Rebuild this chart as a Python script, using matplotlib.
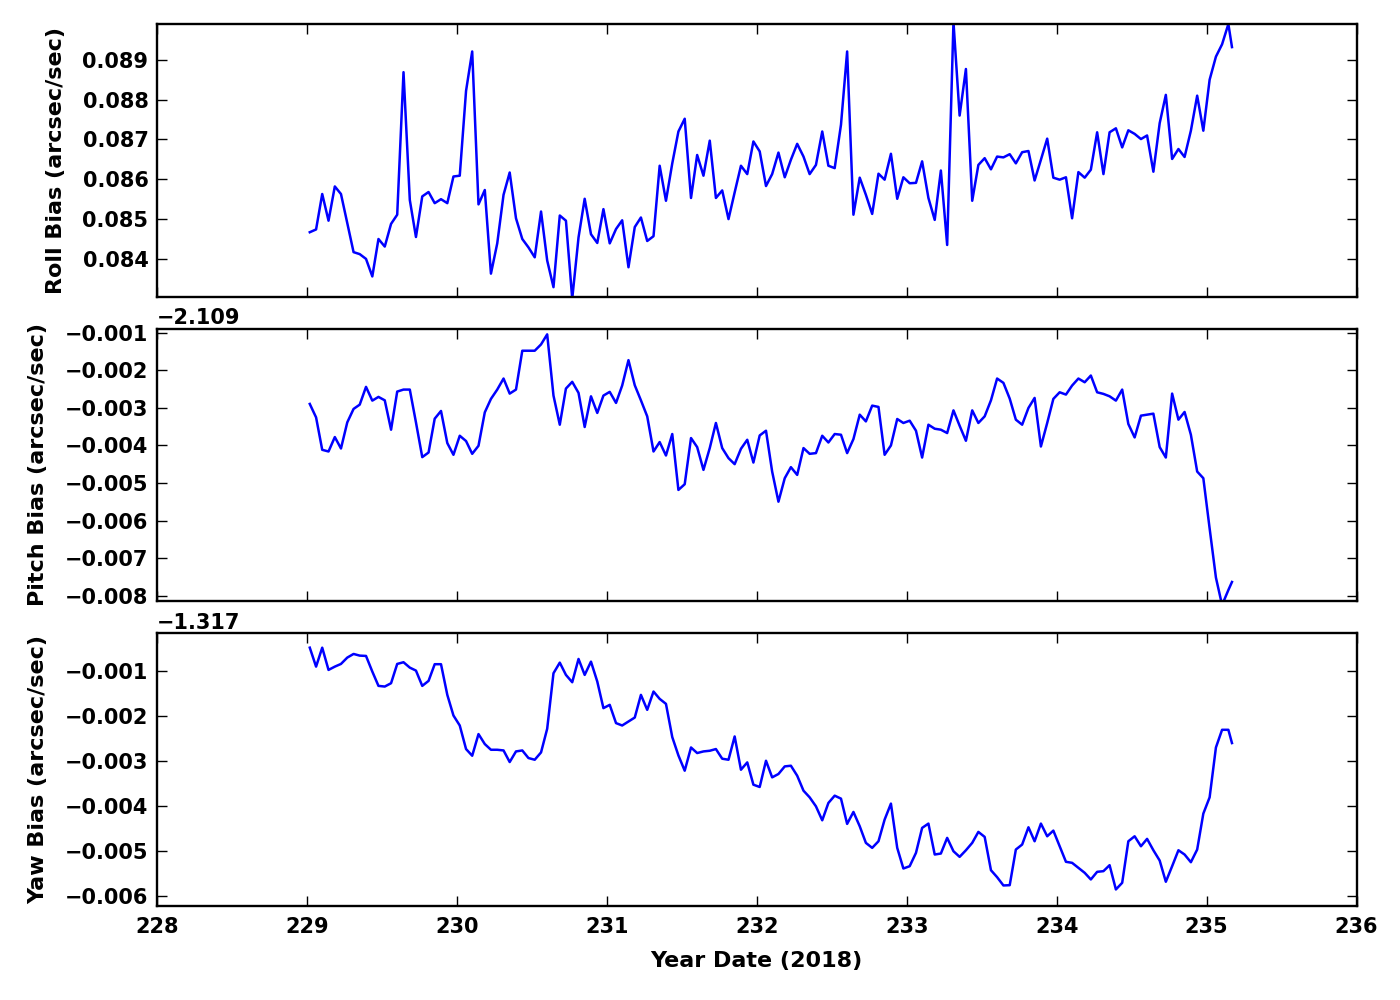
# Roll / Pitch / Yaw Bias ueber Year Date (2018)
import matplotlib
matplotlib.use("Agg")
import matplotlib.pyplot as plt
from matplotlib.ticker import ScalarFormatter, MultipleLocator
import numpy as np

# Zeitpunkte (Year Date 2018, stuendlich)
zeit = [
    229.020, 229.062, 229.103, 229.145, 229.187, 229.228, 229.270, 229.312, 229.353, 229.395, 229.437, 229.478,
    229.520, 229.562, 229.603, 229.645, 229.687, 229.728, 229.770, 229.812, 229.853, 229.895, 229.937, 229.978,
    230.020, 230.062, 230.103, 230.145, 230.187, 230.228, 230.270, 230.312, 230.353, 230.395, 230.437, 230.478,
    230.520, 230.562, 230.603, 230.645, 230.687, 230.728, 230.770, 230.812, 230.853, 230.895, 230.937, 230.978,
    231.020, 231.062, 231.103, 231.145, 231.187, 231.228, 231.270, 231.312, 231.353, 231.395, 231.437, 231.478,
    231.520, 231.562, 231.603, 231.645, 231.687, 231.728, 231.770, 231.812, 231.853, 231.895, 231.937, 231.978,
    232.020, 232.062, 232.103, 232.145, 232.187, 232.228, 232.270, 232.312, 232.353, 232.395, 232.437, 232.478,
    232.520, 232.562, 232.603, 232.645, 232.687, 232.728, 232.770, 232.812, 232.853, 232.895, 232.937, 232.978,
    233.020, 233.062, 233.103, 233.145, 233.187, 233.228, 233.270, 233.312, 233.353, 233.395, 233.437, 233.478,
    233.520, 233.562, 233.603, 233.645, 233.687, 233.728, 233.770, 233.812, 233.853, 233.895, 233.937, 233.978,
    234.020, 234.062, 234.103, 234.145, 234.187, 234.228, 234.270, 234.312, 234.353, 234.395, 234.437, 234.478,
    234.520, 234.562, 234.603, 234.645, 234.687, 234.728, 234.770, 234.812, 234.853, 234.895, 234.937, 234.978,
    235.020, 235.062, 235.103, 235.145, 235.169,
]

# Roll Bias (arcsec/sec)
roll = [
    0.08467, 0.08474, 0.08563, 0.08496, 0.08582, 0.08563, 0.08490, 0.08417, 0.08412, 0.08400, 0.08356, 0.08450,
    0.08431, 0.08488, 0.08511, 0.08869, 0.08548, 0.08455, 0.08557, 0.08568, 0.08540, 0.08550, 0.08540, 0.08607,
    0.08609, 0.08822, 0.08921, 0.08537, 0.08573, 0.08363, 0.08439, 0.08561, 0.08617, 0.08502, 0.08450, 0.08429,
    0.08404, 0.08519, 0.08396, 0.08329, 0.08509, 0.08496, 0.08300, 0.08454, 0.08551, 0.08462, 0.08440, 0.08525,
    0.08439, 0.08475, 0.08497, 0.08379, 0.08480, 0.08504, 0.08445, 0.08457, 0.08634, 0.08546, 0.08640, 0.08720,
    0.08752, 0.08553, 0.08661, 0.08609, 0.08697, 0.08553, 0.08572, 0.08500, 0.08567, 0.08634, 0.08613, 0.08695,
    0.08670, 0.08583, 0.08613, 0.08667, 0.08605, 0.08649, 0.08689, 0.08657, 0.08613, 0.08636, 0.08720, 0.08634,
    0.08628, 0.08737, 0.08921, 0.08511, 0.08604, 0.08561, 0.08513, 0.08614, 0.08599, 0.08664, 0.08551, 0.08605,
    0.08590, 0.08591, 0.08645, 0.08553, 0.08498, 0.08622, 0.08435, 0.08995, 0.08760, 0.08877, 0.08546, 0.08636,
    0.08653, 0.08625, 0.08657, 0.08655, 0.08663, 0.08640, 0.08668, 0.08671, 0.08597, 0.08649, 0.08702, 0.08604,
    0.08599, 0.08605, 0.08502, 0.08618, 0.08604, 0.08624, 0.08718, 0.08613, 0.08718, 0.08728, 0.08680, 0.08723,
    0.08714, 0.08701, 0.08710, 0.08619, 0.08741, 0.08812, 0.08651, 0.08676, 0.08656, 0.08722, 0.08810, 0.08722,
    0.08850, 0.08908, 0.08939, 0.08990, 0.08932,
]

# Pitch Bias, relativ zum Offset -2.109
pitch_offset = -2.109
pitch_rel = [
    -0.002897, -0.003255, -0.004118, -0.004163, -0.003779, -0.004083, -0.003388, -0.003030, -0.002916, -0.002443,
    -0.002809, -0.002710, -0.002801, -0.003583, -0.002568, -0.002515, -0.002515, -0.003388, -0.004313, -0.004190,
    -0.003290, -0.003084, -0.003939, -0.004251, -0.003744, -0.003885, -0.004225, -0.004011, -0.003121, -0.002763,
    -0.002515, -0.002221, -0.002622, -0.002515, -0.001481, -0.001481, -0.001481, -0.001313, -0.001045, -0.002675,
    -0.003450, -0.002488, -0.002309, -0.002603, -0.003511, -0.002694, -0.003137, -0.002675, -0.002576, -0.002870,
    -0.002408, -0.001732, -0.002400, -0.002801, -0.003228, -0.004163, -0.003912, -0.004270, -0.003698, -0.005186,
    -0.005034, -0.003805, -0.004046, -0.004652, -0.004072, -0.003404, -0.004072, -0.004340, -0.004500, -0.004091,
    -0.003851, -0.004457, -0.003736, -0.003610, -0.004697, -0.005499, -0.004874, -0.004580, -0.004786, -0.004072,
    -0.004225, -0.004206, -0.003744, -0.003923, -0.003698, -0.003717, -0.004206, -0.003832, -0.003183, -0.003362,
    -0.002942, -0.002977, -0.004251, -0.004003, -0.003298, -0.003404, -0.003343, -0.003610, -0.004324, -0.003450,
    -0.003557, -0.003583, -0.003672, -0.003068, -0.003477, -0.003878, -0.003068, -0.003404, -0.003228, -0.002801,
    -0.002221, -0.002336, -0.002755, -0.003316, -0.003450, -0.003004, -0.002737, -0.004030, -0.003404, -0.002763,
    -0.002587, -0.002648, -0.002408, -0.002221, -0.002320, -0.002141, -0.002587, -0.002630, -0.002694, -0.002809,
    -0.002515, -0.003431, -0.003789, -0.003209, -0.003183, -0.003156, -0.004046, -0.004324, -0.002622, -0.003316,
    -0.003111, -0.003717, -0.004697, -0.004874, -0.006210, -0.007519, -0.008250, -0.007850, -0.007636,
]

# Yaw Bias, relativ zum Offset -1.317
yaw_offset = -1.317
yaw_rel = [
    -0.000483, -0.000905, -0.000483, -0.000978, -0.000905, -0.000845, -0.000704, -0.000623, -0.000660, -0.000667,
    -0.001015, -0.001333, -0.001348, -0.001274, -0.000845, -0.000807, -0.000927, -0.000993, -0.001333, -0.001222,
    -0.000851, -0.000851, -0.001533, -0.001992, -0.002214, -0.002738, -0.002887, -0.002405, -0.002627, -0.002754,
    -0.002754, -0.002769, -0.003027, -0.002791, -0.002769, -0.002938, -0.002976, -0.002813, -0.002287, -0.001052,
    -0.000816, -0.001089, -0.001252, -0.000734, -0.001089, -0.000794, -0.001237, -0.001828, -0.001755, -0.002161,
    -0.002214, -0.002125, -0.002037, -0.001533, -0.001866, -0.001459, -0.001622, -0.001733, -0.002472, -0.002880,
    -0.003220, -0.002703, -0.002827, -0.002791, -0.002776, -0.002738, -0.002953, -0.002976, -0.002458, -0.003198,
    -0.003035, -0.003531, -0.003582, -0.002998, -0.003368, -0.003293, -0.003124, -0.003109, -0.003331, -0.003664,
    -0.003812, -0.004012, -0.004323, -0.003937, -0.003775, -0.003841, -0.004403, -0.004137, -0.004456, -0.004825,
    -0.004936, -0.004789, -0.004307, -0.003952, -0.004936, -0.005395, -0.005344, -0.005047, -0.004492, -0.004396,
    -0.005084, -0.005062, -0.004714, -0.005011, -0.005136, -0.004989, -0.004825, -0.004581, -0.004692, -0.005433,
    -0.005588, -0.005772, -0.005766, -0.004973, -0.004862, -0.004478, -0.004789, -0.004396, -0.004678, -0.004552,
    -0.004900, -0.005246, -0.005269, -0.005380, -0.005491, -0.005639, -0.005469, -0.005454, -0.005321, -0.005861,
    -0.005713, -0.004789, -0.004678, -0.004900, -0.004736, -0.004989, -0.005218, -0.005690, -0.005344, -0.004989,
    -0.005084, -0.005255, -0.004973, -0.004174, -0.003812, -0.002703, -0.002310, -0.002310, -0.002605,
]

pitch = pitch_offset + np.array(pitch_rel)
yaw = yaw_offset + np.array(yaw_rel)

# Schrift
plt.rcParams['font.family'] = 'DejaVu Sans'
plt.rcParams['font.weight'] = 'bold'
plt.rcParams['axes.labelweight'] = 'bold'
plt.rcParams['font.size'] = 15

fig, axes = plt.subplots(3, 1, sharex=True, figsize=(14, 10), dpi=100)
fig.subplots_adjust(left=0.112, right=0.969, top=0.976, bottom=0.094, hspace=0.117)

reihen = [
    (roll, "Roll Bias (arcsec/sec)", (0.08305, 0.08990), None),
    (pitch, "Pitch Bias (arcsec/sec)", (pitch_offset - 0.008152, pitch_offset - 0.000893), pitch_offset),
    (yaw, "Yaw Bias (arcsec/sec)", (yaw_offset - 0.006229, yaw_offset - 0.000163), yaw_offset),
]

for ax, (werte, label, grenzen, offset) in zip(axes, reihen):
    ax.plot(zeit, werte, color='b', linewidth=1.8)
    ax.set_ylim(grenzen)
    ax.set_ylabel(label, fontsize=16, fontweight='bold', labelpad=12)
    ax.yaxis.set_major_locator(MultipleLocator(0.001))
    fmt = ScalarFormatter(useOffset=offset if offset is not None else False)
    ax.yaxis.set_major_formatter(fmt)
    ax.yaxis.get_offset_text().set_fontweight('bold')
    ax.yaxis.get_offset_text().set_fontsize(15)
    ax.tick_params(direction='in', length=7, width=1, top=True, right=True, labelsize=15)
    ax.tick_params(axis='y', pad=6)
    ax.tick_params(axis='x', pad=8)
    for s in ax.spines.values():
        s.set_linewidth(1.7)

axes[2].set_xlim(228, 236)
axes[2].xaxis.set_major_locator(MultipleLocator(1))
axes[2].set_xlabel("Year Date (2018)", fontsize=16, fontweight='bold', labelpad=10)
for lab in axes[2].get_xticklabels() + [l for ax in axes for l in ax.get_yticklabels()]:
    lab.set_fontweight('bold')

plt.savefig("out.png", dpi=100)
